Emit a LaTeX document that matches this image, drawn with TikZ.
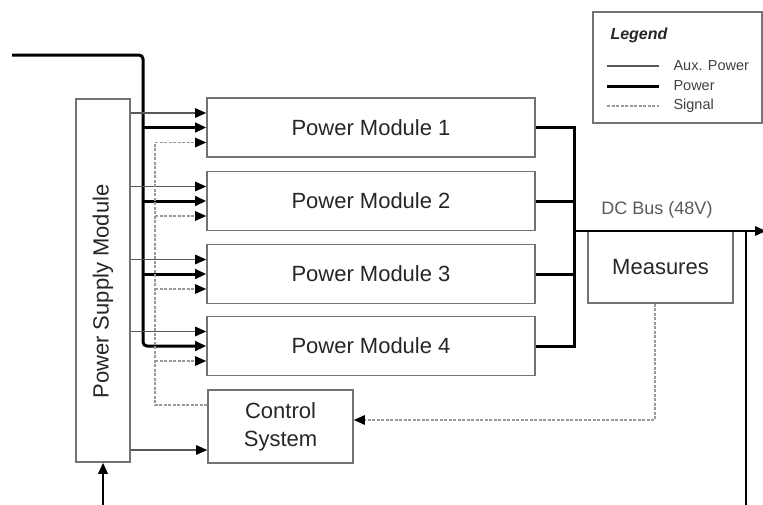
\documentclass[tikz,border=0pt]{standalone}
\usepackage{fontspec}
\setmainfont{Liberation Sans}
\usetikzlibrary{arrows.meta}

\begin{document}
\begin{tikzpicture}[x=1pt,y=-1pt,
	box/.style={draw=black!55,line width=1.6pt,inner sep=0pt,text=black!85,font=\fontsize{22}{28}\selectfont},
	aux/.style={draw=black!65,line width=1.2pt},
	pow/.style={draw=black,line width=3pt},
	sig/.style={draw=black!40,line width=1.2pt,dash pattern=on 3pt off 1.5pt},
	tip/.style={-{Triangle[length=11pt,width=9.5pt,black]}}]
\useasboundingbox (0,0) rectangle (763,504);
%
\node[box,minimum width=54pt,minimum height=363pt] (psm) at (103,280.5) {\rotatebox{90}{Power Supply Module\hspace{22pt}}};
\node[box,minimum width=328pt,minimum height=59pt] (pm1) at (371,127.5) {Power Module 1};
\node[box,minimum width=328pt,minimum height=59pt] (pm2) at (371,201) {Power Module 2};
\node[box,minimum width=328pt,minimum height=59pt] (pm3) at (371,274) {Power Module 3};
\node[box,minimum width=328pt,minimum height=59pt] (pm4) at (371,346) {Power Module 4};
\node[box,minimum width=145pt,minimum height=73pt,align=center] (ctrl) at (280.5,426.5) {Control\\System};
\node[box,minimum width=145pt,minimum height=72pt] (meas) at (660.5,267) {Measures};
%
\coordinate (src) at (12,55);
\coordinate (pbus) at (143,0);
\coordinate (sbus) at (155,0);
\coordinate (col) at (574,0);
\coordinate (bus) at (574,231);
\coordinate (busend) at (766,231);
\coordinate (ret) at (746,231);
\coordinate (retlow) at (746,530);
%
	\draw[pow,tip,rounded corners=4pt] (src) -| (pm4.west -| pbus) -- (pm4.west);
	\draw[pow,tip] (pm1.west -| pbus) -- (pm1.west);
	\draw[pow,tip] (pm2.west -| pbus) -- (pm2.west);
	\draw[pow,tip] (pm3.west -| pbus) -- (pm3.west);
%
	\draw[aux,tip] ([yshift=14.5pt]pm1.west -| psm.east) -- ([yshift=14.5pt]pm1.west);
	\draw[aux,tip] ([yshift=14.5pt]pm2.west -| psm.east) -- ([yshift=14.5pt]pm2.west);
	\draw[aux,tip] ([yshift=14.5pt]pm3.west -| psm.east) -- ([yshift=14.5pt]pm3.west);
	\draw[aux,tip] ([yshift=14.5pt]pm4.west -| psm.east) -- ([yshift=14.5pt]pm4.west);
	\draw[aux,tip] ([yshift=-23.5pt]ctrl.west -| psm.east) -- ([yshift=-23.5pt]ctrl.west);
%
	\draw[sig,tip] ([yshift=21.5pt]ctrl.west) -| ([yshift=-15pt]pm1.west -| sbus) -- ([yshift=-15pt]pm1.west);
	\draw[sig,tip] ([yshift=-15pt]pm2.west -| sbus) -- ([yshift=-15pt]pm2.west);
	\draw[sig,tip] ([yshift=-15pt]pm3.west -| sbus) -- ([yshift=-15pt]pm3.west);
	\draw[sig,tip] ([yshift=-15pt]pm4.west -| sbus) -- ([yshift=-15pt]pm4.west);
%
	\draw[pow] (pm1.east) -| (pm4.east -| col) -- (pm4.east);
	\draw[pow] (pm2.east) -- (pm2.east -| col);
	\draw[pow] (pm3.east) -- (pm3.east -| col);
	\draw[line width=2pt,tip] (bus) -- (busend);
\node[text=black!65,font=\fontsize{18}{20}\selectfont] (buslabel) at (657,210) {DC Bus (48V)};
	\draw[sig,tip] ([xshift=-5.5pt]meas.south) |- ([yshift=6.5pt]ctrl.east);
	\draw[line width=2pt,tip] (ret) -- (retlow) -| (psm.south);
%
\node[draw=black!55,line width=1.2pt,minimum width=169pt,minimum height=111pt] (legend) at (677.5,67.5) {};
\node[anchor=west,text=black!85,font=\fontsize{16}{18}\selectfont\bfseries\itshape] (legtitle) at (607,35) {Legend};
\coordinate (la) at (607,66);
\coordinate (lb) at (659,66);
\coordinate (lc) at (607,86);
\coordinate (ld) at (659,86);
\coordinate (le) at (607,106);
\coordinate (lf) at (659,106);
	\draw[aux] (la) -- (lb);
	\draw[pow] (lc) -- (ld);
	\draw[sig] (le) -- (lf);
\node[anchor=west,text=black!75,font=\fontsize{14.5}{16}\selectfont] (lauxtxt) at (670,66) {Aux. Power};
\node[anchor=west,text=black!75,font=\fontsize{14.5}{16}\selectfont] (lpowtxt) at (670,86) {Power};
\node[anchor=west,text=black!75,font=\fontsize{14.5}{16}\selectfont] (lsigtxt) at (670,106) {Signal};
\end{tikzpicture}
\end{document}
